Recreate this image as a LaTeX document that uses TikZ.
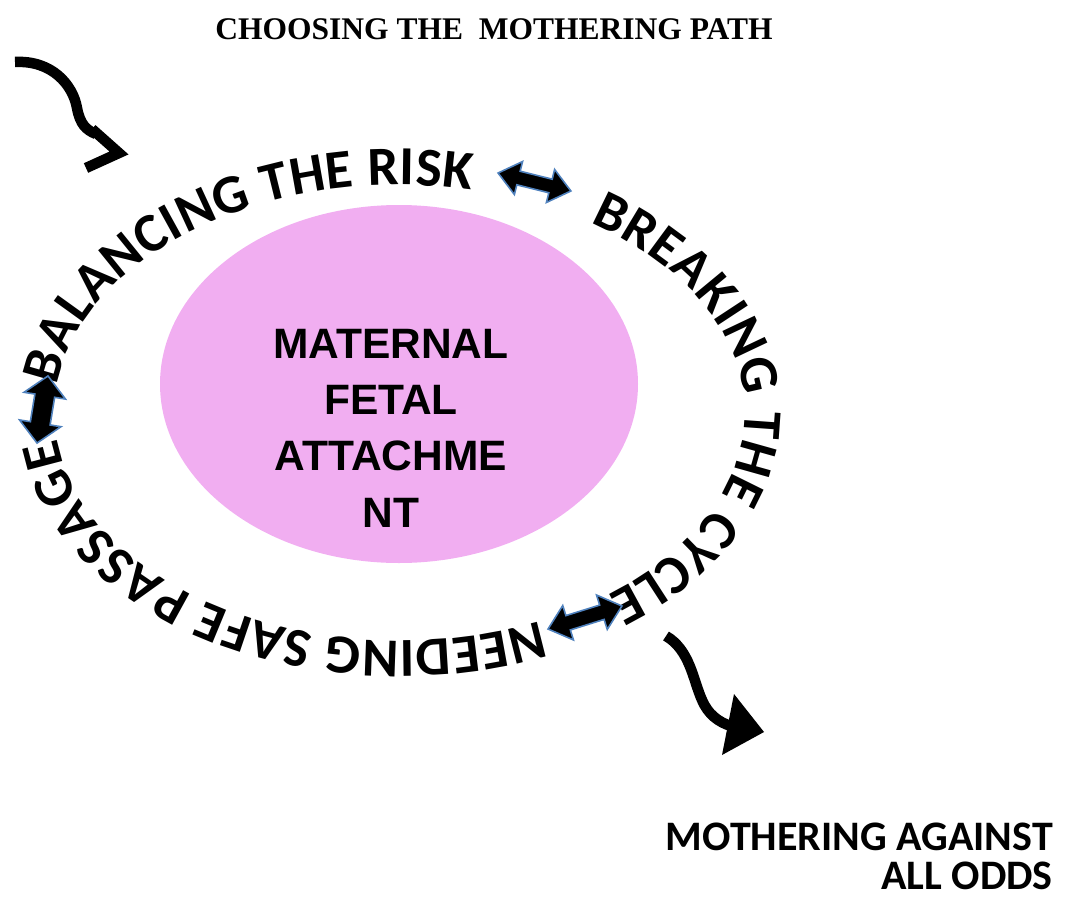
\documentclass[tikz,border=0pt]{standalone}
\usepackage{fontspec}
\newfontfamily\carlito{Carlito}
\newfontfamily\libsans{Liberation Sans}
\newfontfamily\libserif{Liberation Serif}
\usetikzlibrary{decorations.text,shapes.geometric}
\definecolor{corepink}{RGB}{241,174,241}
\definecolor{arrowblue}{RGB}{79,129,189}
\newcommand\arcfont{\carlito\bfseries\fontsize{55}{55}\selectfont}
% x, y, angle, half length, head length, half head width, half shaft width
\newcommand\dblarr[7]{%
  \begin{scope}[shift={(#1,#2)},rotate=#3]
    \filldraw[dblarrow] (-#4,0) -- ({-#4+#5},#6) -- ({-#4+#5},#7) -- ({#4-#5},#7)
      -- ({#4-#5},#6) -- (#4,0) -- ({#4-#5},-#6) -- ({#4-#5},-#7)
      -- ({-#4+#5},-#7) -- ({-#4+#5},-#6) -- cycle;
  \end{scope}}
\tikzset{
  dblarrow/.style={fill=black, draw=arrowblue, line width=1.6pt, line join=miter},
  curvearrow/.style={draw=black, line width=10.5pt},
  coretext/.style={anchor=base, font=\libsans\bfseries\fontsize{42.5}{42.5}\selectfont, inner sep=0pt},
  oddstext/.style={anchor=base east, font=\carlito\bfseries\fontsize{42}{42}\selectfont, inner sep=0pt},
  arctext/.style={decorate, decoration={text along path, text align={fit to path}, text={|\arcfont|#1}}}
}
\begin{document}
\begin{tikzpicture}[x=1pt,y=1pt]
\useasboundingbox (0,0) rectangle (1066,-902);
% title
\node[anchor=base, inner sep=0pt, font=\libserif\bfseries\fontsize{31.5}{31.5}\selectfont] (title) at (494,-39) {CHOOSING THE~ MOTHERING PATH};
% central ellipse
\node[ellipse, fill=corepink, minimum width=478, minimum height=358, inner sep=0pt] (core) at (399,-384) {};
\node[coretext] (m1) at (391,-358) {MATERNAL};
\node[coretext] (m2) at (391,-414) {FETAL};
\node[coretext] (m3) at (391,-470) {ATTACHME};
\node[coretext] (m4) at (391,-527) {NT};
% curved texts
\path[arctext={BALANCING THE RISK}] (400,-413) ++(173:345 and 228) arc[start angle=173, end angle=78, x radius=345, y radius=228];
\path[arctext={BREAKING THE CYCLE}] (400,-413) ++(56.5:345 and 228) arc[start angle=56.5, end angle=-53, x radius=345, y radius=228];
\path[arctext={NEEDING SAFE PASSAGE}] (400,-413) ++(-66:345 and 228) arc[start angle=-66, end angle=-173.5, x radius=345, y radius=228];
% double arrows
\dblarr{534.5}{-182}{-13.9}{37.5}{21}{17}{7}
\dblarr{42.5}{-409.5}{-99.3}{34}{20}{21}{10}
\dblarr{585}{-617.5}{17.3}{38.7}{21}{18}{7.5}
% top-left curved arrow
\draw[curvearrow] (15,-62) .. controls (52,-60) and (73,-85) .. (77,-108) .. controls (80,-124) and (86,-130) .. (96,-134);
\draw[curvearrow, line join=miter, miter limit=4] (92,-129) -- (119,-153) -- (86,-168);
% bottom-right curved arrow
\draw[curvearrow] (666,-636) .. controls (690,-650) and (693,-680) .. (702,-700) .. controls (708,-714) and (718,-722) .. (731,-726);
\fill (764,-732) -- (734,-694) -- (722,-755) -- cycle;
% bottom-right text
\node[oddstext] (odds1) at (1053,-850) {MOTHERING AGAINST};
\node[oddstext] (odds2) at (1053,-889) {ALL ODDS};
\end{tikzpicture}
\end{document}
